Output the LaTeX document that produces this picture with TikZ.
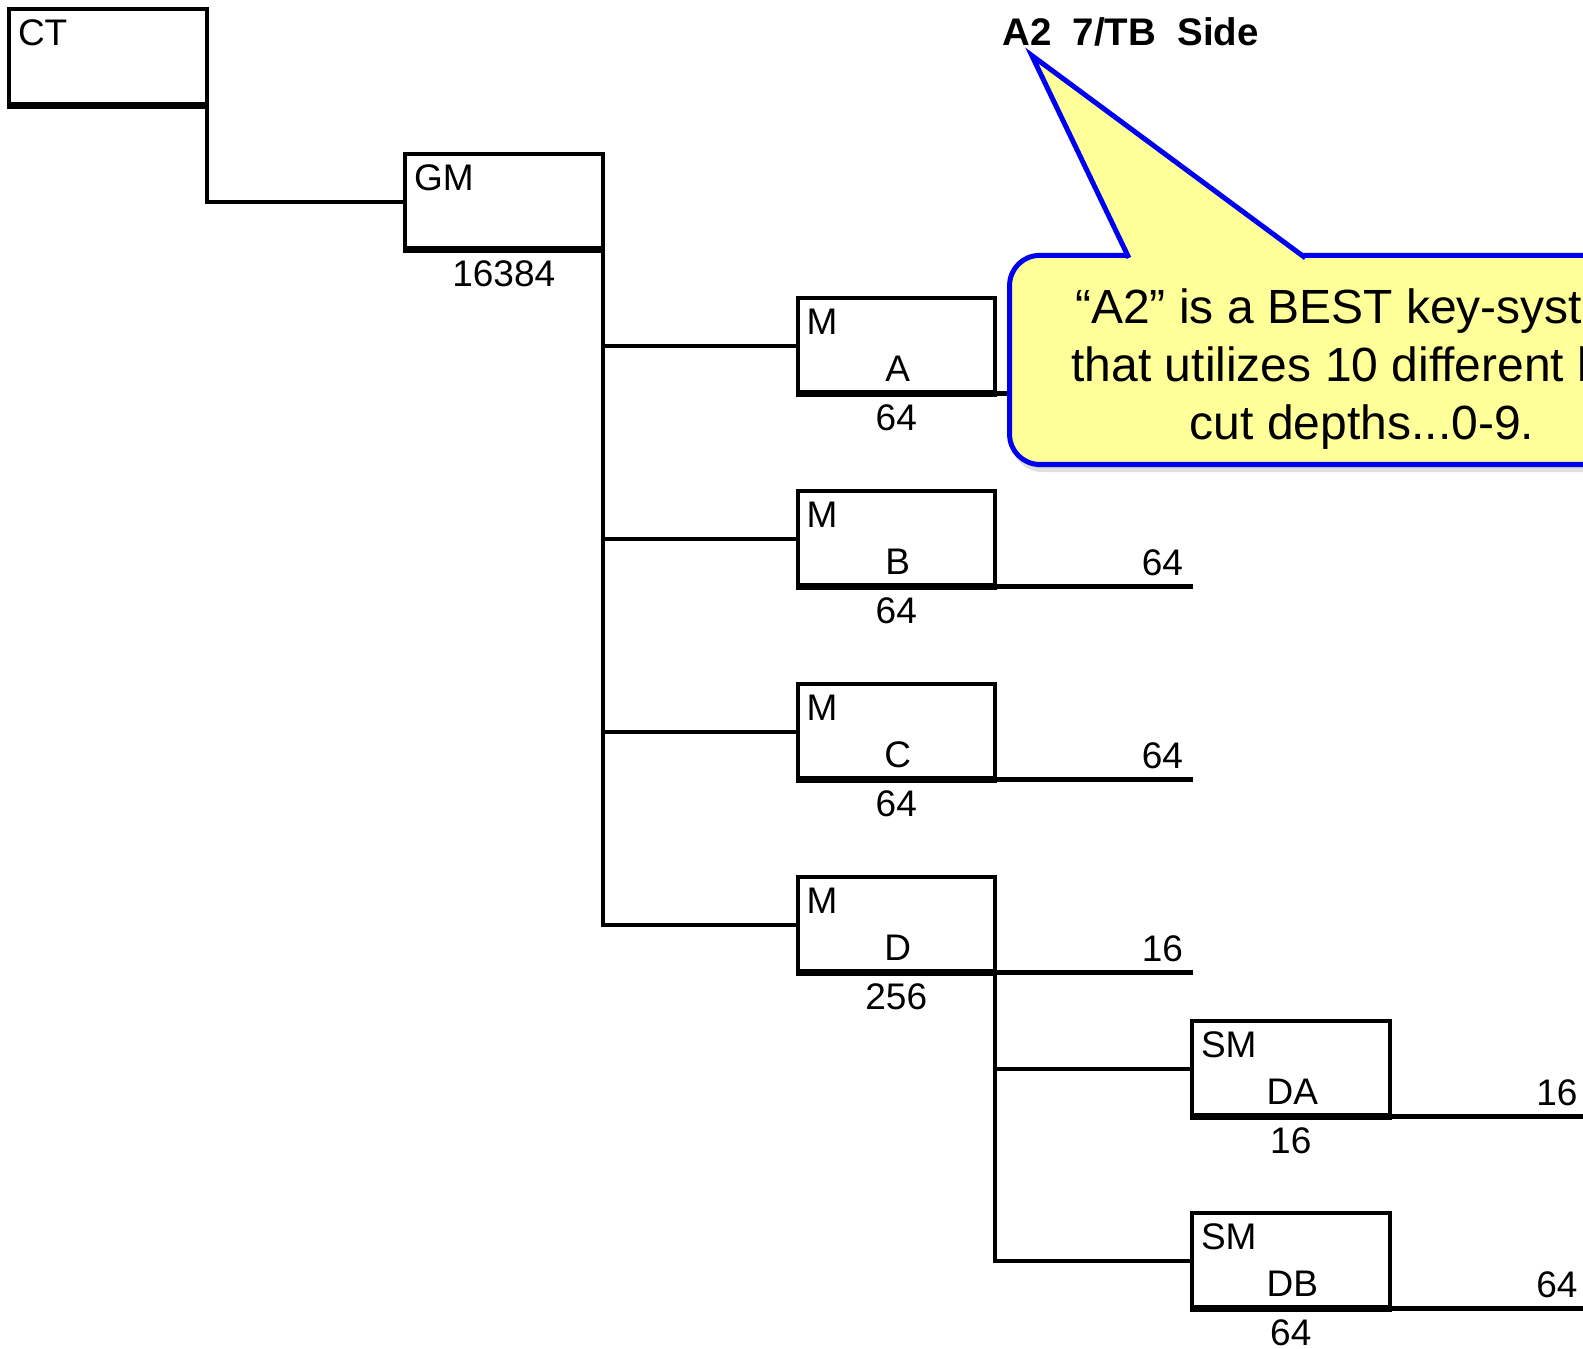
\documentclass[tikz,border=0pt]{standalone}
\usepackage{fontspec}
\setmainfont{Liberation Sans}
\definecolor{callfill}{RGB}{255,255,153}
\definecolor{calldraw}{RGB}{0,0,240}
\begin{document}
\begin{tikzpicture}[x=1pt,y=-1pt,
  box/.style={draw, line width=4pt, minimum width=197.5pt, minimum height=96pt,
    inner sep=0pt, outer sep=0pt, anchor=north west},
  lbl/.style={font=\fontsize{37}{44}\selectfont, inner sep=0pt, outer sep=0pt},
  link/.style={line width=4pt},
  basel/.style={line width=7pt, shorten <=-2pt, shorten >=-2pt},
  outl/.style={line width=5pt},
  calltext/.style={font=\fontsize{48}{58}\selectfont, inner sep=0pt, anchor=base}]
\useasboundingbox (0,0) rectangle (1583,1349);
\clip (0,0) rectangle (1583,1349);

% boxes
\node[box] (ct) at (9,9) {};
\node[box] (gm) at (405,153.5) {};
\node[box] (ma) at (797.5,297.5) {};
\node[box] (mb) at (797.5,490.5) {};
\node[box] (mc) at (797.5,683.5) {};
\node[box] (md) at (797.5,876.5) {};
\node[box] (da) at (1192,1020.5) {};
\node[box] (db) at (1192,1212.5) {};

% connectors
\draw[link] (ct.south east) |- (gm.west);
\draw[link] (gm.south east) |- (md.west);
\foreach \n in {ma,mb,mc} \draw[link] (gm.south east |- \n.west) -- (\n.west);
\draw[link] (md.south east) |- (db.west);
\draw[link] (md.south east |- da.west) -- (da.west);

% thick bottom edges
\foreach \n in {ct,gm,ma,mb,mc,md,da,db} \draw[basel] (\n.south west) -- (\n.south east);

% outgoing lines
\foreach \n in {ma,mb,mc,md,da,db} {
  \coordinate (\n-r) at ([xshift=198pt]\n.south east);
  \draw[outl] (\n.south east) -- (\n-r);
}
\node[lbl, anchor=base east] (mb-rn) at ([xshift=-10pt,yshift=11pt]mb-r) {64};
\node[lbl, anchor=base east] (mc-rn) at ([xshift=-10pt,yshift=11pt]mc-r) {64};
\node[lbl, anchor=base east] (md-rn) at ([xshift=-10pt,yshift=11pt]md-r) {16};
\node[lbl, anchor=base east] (da-rn) at ([xshift=-10pt,yshift=11pt]da-r) {16};
\node[lbl, anchor=base east] (db-rn) at ([xshift=-10pt,yshift=11pt]db-r) {64};

% box labels
\node[lbl, anchor=base west] (ct-t) at ([xshift=9pt,yshift=-36pt]ct.north west) {CT};
\node[lbl, anchor=base west] (gm-t) at ([xshift=9pt,yshift=-37pt]gm.north west) {GM};
\node[lbl, anchor=base] (gm-n) at ([yshift=-36.5pt]gm.south) {16384};
\foreach \n/\t/\l/\b in {ma/M/A/64, mb/M/B/64, mc/M/C/64, md/M/D/256, da/SM/DA/16, db/SM/DB/64} {
  \node[lbl, anchor=base west] (\n-t) at ([xshift=9pt,yshift=-37pt]\n.north west) {\t};
  \node[lbl, anchor=base] (\n-l) at ([xshift=1.5pt,yshift=12pt]\n.south) {\l};
  \node[lbl, anchor=base] (\n-n) at ([yshift=-37pt]\n.south) {\b};
}

% title
\node[font=\fontsize{38.5}{44}\selectfont\bfseries, inner sep=0pt, anchor=base west] (title)
  at (1002,45.5) {A2\ \ 7/TB\ \ Side};

% callout
\fill[black, opacity=0.12, rounded corners=30pt] (1012,260) rectangle (1718,472);
\fill[black, opacity=0.15, rounded corners=30pt] (1011,258) rectangle (1716,468);
\draw[calldraw, fill=callfill, line width=5pt, rounded corners=30pt] (1009.6,255.4) rectangle (1714,464.4);
\fill[callfill] (1031.8,55.5) -- (1130.9,262) -- (1310.9,262) -- cycle;
\draw[calldraw, line width=5pt] (1128.9,257.9) -- (1031.8,55.5) -- (1305.4,257.9);
\node[calltext] (c1) at (1362,323) {“A2” is a BEST key-system};
\node[calltext] (c2) at (1362,381) {that utilizes 10 different key};
\node[calltext] (c3) at (1362,439) {cut depths...0-9.};
\end{tikzpicture}
\end{document}
